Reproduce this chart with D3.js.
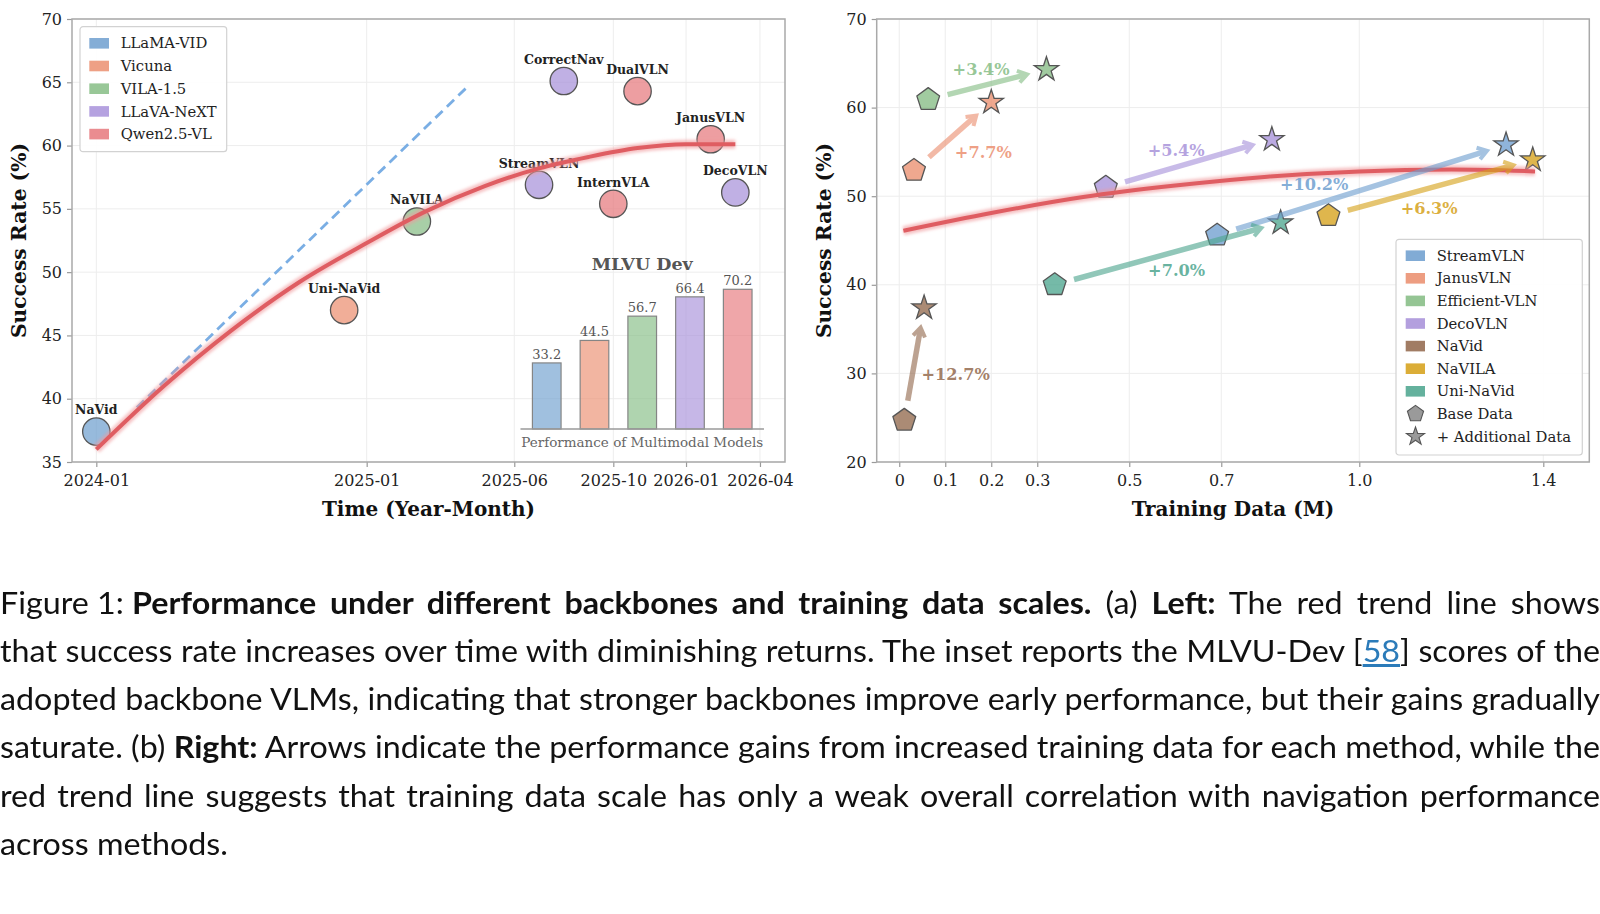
<!DOCTYPE html>
<html><head><meta charset="utf-8">
<script src="https://cdn.jsdelivr.net/npm/d3@7"></script>
<style>
body{margin:0;background:#fff;width:1600px;height:914px;overflow:hidden;position:relative;}
svg{position:absolute;left:0;top:0;}
#caption{position:absolute;left:0;top:577.5px;font-family:Lato,'Open Sans',sans-serif;font-weight:400;font-size:30px;line-height:48.33px;color:#111;transform-origin:0 0;}
#caption .ln{white-space:nowrap;}
#caption b{font-weight:700;}
#caption a{color:#2b7bb9;text-decoration:underline;}
#caption .fx{word-spacing:0 !important;}
</style></head>
<body>
<svg id="chart" width="1600" height="570"></svg>
<div id="caption"></div>
<script>
// ---------------- DATA ----------------
// Left panel: months counted from 2024-01
const xTickMonths = [0, 12, 17, 21, 24, 27];
const xTickLabelsL = ['2024-01', '2025-01', '2025-06', '2025-10', '2026-01', '2026-04'];
const yTicksL = [35, 40, 45, 50, 55, 60, 65, 70];
const leftMethods = ['NaVid', 'Uni-NaVid', 'NaVILA', 'StreamVLN', 'CorrectNav', 'InternVLA', 'DualVLN', 'JanusVLN', 'DecoVLN'];
const leftMonths = [0, 11, 13.7, 18, 19, 21, 22, 25, 26];
const leftSR = [37.4, 47.0, 54.0, 56.9, 65.1, 55.4, 64.3, 60.5, 56.3];
const leftBackbone = ['LLaMA-VID', 'Vicuna', 'VILA-1.5', 'LLaVA-NeXT', 'LLaVA-NeXT', 'Qwen2.5-VL', 'Qwen2.5-VL', 'Qwen2.5-VL', 'LLaVA-NeXT'];
const trendMonthsL = [0, 3, 6, 9, 12, 14, 16, 18, 20, 22, 24, 26];
const trendSRL = [36.0, 41.0, 45.4, 49.2, 52.3, 54.8, 56.8, 58.2, 59.1, 59.8, 60.1, 60.1];
const dashMonths = [1.8, 15.35];
const dashSR = [39.3, 64.5];
// Inset
const backbones = ['LLaMA-VID', 'Vicuna', 'VILA-1.5', 'LLaVA-NeXT', 'Qwen2.5-VL'];
const mlvuScores = [33.2, 44.5, 56.7, 66.4, 70.2];
const backboneColors = ['#6f9fcf', '#eb8f70', '#86bd85', '#a892da', '#e6787d'];

// Right panel
const xTicksR = [0, 0.1, 0.2, 0.3, 0.5, 0.7, 1.0, 1.4];
const xTickLabelsR = ['0', '0.1', '0.2', '0.3', '0.5', '0.7', '1.0', '1.4'];
const yTicksR = [20, 30, 40, 50, 60, 70];
const rightMethods = ['StreamVLN', 'JanusVLN', 'Efficient-VLN', 'DecoVLN', 'NaVid', 'NaVILA', 'Uni-NaVid'];
const rightColors = ['#6f9fcf', '#eb8f70', '#86bd85', '#a892da', '#946a4e', '#d6a21b', '#4ea68f'];
const baseData = [0.691, 0.032, 0.063, 0.449, 0.011, 0.933, 0.338];
const baseSR = [45.6, 52.9, 60.9, 51.0, 24.7, 47.8, 40.0];
const addData = [1.319, 0.200, 0.320, 0.810, 0.054, 1.377, 0.829];
const addSR = [55.8, 60.6, 64.3, 56.4, 37.4, 54.1, 47.0];
const gainLabels = ['+10.2%', '+7.7%', '+3.4%', '+5.4%', '+12.7%', '+6.3%', '+7.0%'];
const gainLabelData = [0.902, 0.183, 0.178, 0.602, 0.1226, 1.152, 0.603];
const gainLabelSR = [51.3, 55.0, 64.3, 55.2, 29.9, 48.6, 41.6];
const trendDataR = [0.009, 0.2, 0.4, 0.6, 0.8, 1.0, 1.2, 1.382];
const trendSRR = [46.1, 48.1, 49.9, 51.2, 52.2, 52.8, 53.0, 52.8];

// Caption ('f' = fixed spacing, 'b' = bold, 'a' = link)
const captionLines = [
  [['f', 'Figure 1: '], ['b', 'Performance under different backbones and training data scales.'], ['', ' (a) '], ['b', 'Left:'], ['', ' The red trend line shows']],
  [['', 'that success rate increases over time with diminishing returns. The inset reports the MLVU-Dev ['], ['a', '58'], ['', '] scores of the']],
  [['', 'adopted backbone VLMs, indicating that stronger backbones improve early performance, but their gains gradually']],
  [['', 'saturate. (b) '], ['b', 'Right:'], ['', ' Arrows indicate the performance gains from increased training data for each method, while the']],
  [['', 'red trend line suggests that training data scale has only a weak overall correlation with navigation performance']],
  [['', 'across methods.']]
];

// ---------------- DRAWING ----------------
const FONT = "'DejaVu Serif', serif";
const svg = d3.select('#chart');
const L = {x0: 72, y0: 19, x1: 785, y1: 462};
const R = {x0: 876.7, y0: 19, x1: 1589.3, y1: 462};
const Lw = L.x1 - L.x0, Lh = L.y1 - L.y0;
const colorL = d3.scaleOrdinal().domain(backbones).range(backboneColors);
const colorR = d3.scaleOrdinal().domain(rightMethods).range(rightColors);

const xL = d3.scaleLinear()
  .domain([-1.08, ...xTickMonths, 28.0])
  .range([0, .0341, .4133, .6203, .7592, .8612, .9649, 1].map(f => L.x0 + f * Lw));
const yL = d3.scaleLinear().domain([35, 70]).range([L.y1, L.y0]);
const xR = d3.scaleLinear().domain([-0.049, 1.5]).range([R.x0, R.x1]);
const yR = d3.scaleLinear().domain([20, 70]).range([R.y1, R.y0]);

const defs = svg.append('defs');
defs.append('filter').attr('id', 'blur').attr('x', '-10%').attr('y', '-10%').attr('width', '120%').attr('height', '120%')
  .append('feGaussianBlur').attr('stdDeviation', 1.8);

function frame(P, x, y, xt, xlab, yt) {
  const g = svg.append('g');
  g.selectAll('line.gx').data(xt).join('line').attr('class', 'gx')
    .attr('x1', d => x(d)).attr('x2', d => x(d)).attr('y1', P.y0).attr('y2', P.y1)
    .attr('stroke', '#ededed').attr('stroke-width', 1);
  g.selectAll('line.gy').data(yt).join('line').attr('class', 'gy')
    .attr('y1', d => y(d)).attr('y2', d => y(d)).attr('x1', P.x0).attr('x2', P.x1)
    .attr('stroke', '#ededed').attr('stroke-width', 1);
  const ax = svg.append('g').attr('transform', `translate(0,${P.y1})`)
    .call(d3.axisBottom(x).tickValues(xt).tickFormat((d, i) => xlab[i]).tickSize(5).tickPadding(8));
  const ay = svg.append('g').attr('transform', `translate(${P.x0},0)`)
    .call(d3.axisLeft(y).tickValues(yt).tickSize(5).tickPadding(5));
  [ax, ay].forEach(a => {
    a.select('.domain').remove();
    a.selectAll('line').attr('stroke', '#9a9a9a').attr('stroke-width', 1.2);
    a.selectAll('text').attr('font-family', FONT).attr('font-size', 16).attr('fill', '#222');
  });
  svg.append('rect').attr('x', P.x0).attr('y', P.y0).attr('width', P.x1 - P.x0).attr('height', P.y1 - P.y0)
    .attr('fill', 'none').attr('stroke', '#a9a9a9').attr('stroke-width', 1.5);
}

function axisTitles(P, xt) {
  svg.append('text').attr('x', (P.x0 + P.x1) / 2).attr('y', 516).attr('text-anchor', 'middle')
    .attr('font-family', FONT).attr('font-weight', 'bold').attr('font-size', 20).attr('fill', '#111').text(xt);
  svg.append('text').attr('transform', `translate(${P.x0 - 53},${(P.y0 + P.y1) / 2}) rotate(-90)`)
    .attr('text-anchor', 'middle').attr('dy', '0.35em')
    .attr('font-family', FONT).attr('font-weight', 'bold').attr('font-size', 20.3).attr('fill', '#111').text('Success Rate (%)');
}

function starPath(Ro, ri) {
  const p = [];
  for (let k = 0; k < 10; k++) {
    const a = -Math.PI / 2 + k * Math.PI / 5, r = k % 2 ? ri : Ro;
    p.push([r * Math.cos(a), r * Math.sin(a)]);
  }
  return 'M' + p.map(q => q[0].toFixed(2) + ',' + q[1].toFixed(2)).join('L') + 'Z';
}
function pentPath(Ro) {
  const p = [];
  for (let k = 0; k < 5; k++) {
    const a = -Math.PI / 2 + k * 2 * Math.PI / 5;
    p.push([Ro * Math.cos(a), Ro * Math.sin(a)]);
  }
  return 'M' + p.map(q => q[0].toFixed(2) + ',' + q[1].toFixed(2)).join('L') + 'Z';
}

function redTrend(pathD) {
  svg.append('path').attr('d', pathD).attr('fill', 'none').attr('stroke', '#f09a9c').attr('stroke-width', 9)
    .attr('stroke-opacity', 0.6).attr('filter', 'url(#blur)').attr('stroke-linecap', 'butt');
  svg.append('path').attr('d', pathD).attr('fill', 'none').attr('stroke', '#df5d62').attr('stroke-width', 4)
    .attr('stroke-linecap', 'butt');
}

// ===== LEFT PANEL =====
frame(L, xL, yL, xTickMonths, xTickLabelsL, yTicksL);
axisTitles(L, 'Time (Year-Month)');

// dashed blue line
svg.append('path').attr('d', d3.line()(dashMonths.map((m, i) => [xL(m), yL(dashSR[i])])))
  .attr('fill', 'none').attr('stroke', '#7aaee4').attr('stroke-width', 2.8).attr('stroke-dasharray', '10,6');

// points
const idxL = d3.range(leftMethods.length);
svg.append('g').selectAll('circle').data(idxL).join('circle')
  .attr('cx', i => xL(leftMonths[i])).attr('cy', i => yL(leftSR[i])).attr('r', 13.7)
  .attr('fill', i => colorL(leftBackbone[i])).attr('fill-opacity', 0.72)
  .attr('stroke', '#555').attr('stroke-width', 1.3);
svg.append('g').selectAll('text').data(idxL).join('text')
  .attr('x', i => xL(leftMonths[i])).attr('y', i => yL(leftSR[i]) - 21.5).attr('dy', '0.35em')
  .attr('text-anchor', 'middle').attr('font-family', FONT).attr('font-weight', 'bold')
  .attr('font-size', 12.5).attr('fill', '#222').text(i => leftMethods[i]);

// inset bars
const inX0 = L.x0 + 0.629 * Lw, inX1 = L.x0 + 0.9705 * Lw, inY0 = L.y0 + 0.9255 * Lh;
const xIn = d3.scaleBand().domain(backbones).range([inX0, inX1]).paddingInner(0.4).paddingOuter(0.25);
const yIn = d3.scaleLinear().domain([0, 80]).range([inY0, inY0 - 0.3594 * Lh]);
const gi = svg.append('g');
gi.selectAll('rect').data(backbones).join('rect')
  .attr('x', d => xIn(d)).attr('width', xIn.bandwidth())
  .attr('y', (d, i) => yIn(mlvuScores[i])).attr('height', (d, i) => yIn(0) - yIn(mlvuScores[i]))
  .attr('fill', d => colorL(d)).attr('fill-opacity', 0.66).attr('stroke', '#858585').attr('stroke-width', 1.2);
gi.selectAll('text.v').data(backbones).join('text').attr('class', 'v')
  .attr('x', d => xIn(d) + xIn.bandwidth() / 2).attr('y', (d, i) => yIn(mlvuScores[i]) - 4)
  .attr('text-anchor', 'middle').attr('font-family', FONT).attr('font-size', 13).attr('fill', '#555')
  .text((d, i) => mlvuScores[i].toFixed(1));
gi.append('line').attr('x1', inX0).attr('x2', inX1).attr('y1', inY0).attr('y2', inY0)
  .attr('stroke', '#9a9a9a').attr('stroke-width', 1.5);
gi.append('text').attr('x', (inX0 + inX1) / 2).attr('y', yIn(80)).attr('text-anchor', 'middle')
  .attr('font-family', FONT).attr('font-weight', 'bold').attr('font-size', 17.5).attr('fill', '#555').text('MLVU Dev');
gi.append('text').attr('x', (inX0 + inX1) / 2).attr('y', inY0 + 18).attr('text-anchor', 'middle')
  .attr('font-family', FONT).attr('font-size', 13.5).attr('fill', '#666').text('Performance of Multimodal Models');

// red trend
redTrend(d3.line().curve(d3.curveMonotoneX)(trendMonthsL.map((m, i) => [xL(m), yL(trendSRL[i])])));

// legend left
const lg = svg.append('g').attr('transform', `translate(${L.x0 + 8},${L.y0 + 7.7})`);
lg.append('rect').attr('width', 146.7).attr('height', 125).attr('rx', 3).attr('fill', '#fff').attr('fill-opacity', 0.9)
  .attr('stroke', '#d2d2d2').attr('stroke-width', 1.2);
backbones.forEach((b, i) => {
  const yy = 16.6 + i * 22.7;
  lg.append('rect').attr('x', 9.3).attr('y', yy - 5.3).attr('width', 19.7).attr('height', 10.6)
    .attr('fill', colorL(b)).attr('fill-opacity', 0.85);
  lg.append('text').attr('x', 40.7).attr('y', yy).attr('dy', '0.35em').attr('font-family', FONT)
    .attr('font-size', 14.8).attr('fill', '#222').text(b);
});

// ===== RIGHT PANEL =====
frame(R, xR, yR, xTicksR, xTickLabelsR, yTicksR);
axisTitles(R, 'Training Data (M)');

const idxR = d3.range(rightMethods.length);
const gm = svg.append('g');
gm.selectAll('path.base').data(idxR).join('path').attr('class', 'base')
  .attr('d', pentPath(12)).attr('transform', i => `translate(${xR(baseData[i])},${yR(baseSR[i])})`)
  .attr('fill', i => colorR(rightMethods[i])).attr('fill-opacity', 0.78)
  .attr('stroke', '#555').attr('stroke-width', 1.3).attr('stroke-linejoin', 'round');
gm.selectAll('path.add').data(idxR).join('path').attr('class', 'add')
  .attr('d', starPath(12.8, 4.9)).attr('transform', i => `translate(${xR(addData[i])},${yR(addSR[i])})`)
  .attr('fill', i => colorR(rightMethods[i])).attr('fill-opacity', 0.78)
  .attr('stroke', '#555').attr('stroke-width', 1.3).attr('stroke-linejoin', 'miter');

redTrend(d3.line().curve(d3.curveMonotoneX)(trendDataR.map((x, i) => [xR(x), yR(trendSRR[i])])));

// arrows
const ga = svg.append('g');
idxR.forEach(i => {
  const x0 = xR(baseData[i]), y0 = yR(baseSR[i]), x1 = xR(addData[i]), y1 = yR(addSR[i]);
  const dx = x1 - x0, dy = y1 - y0, len = Math.hypot(dx, dy), ux = dx / len, uy = dy / len;
  const nx = -uy, ny = ux, shrink = 20;
  const sx = x0 + ux * shrink, sy = y0 + uy * shrink, tx = x1 - ux * shrink, ty = y1 - uy * shrink;
  const g = ga.append('g').attr('opacity', 0.62);
  const col = colorR(rightMethods[i]);
  g.append('line').attr('x1', sx).attr('y1', sy).attr('x2', tx - ux * 2.5).attr('y2', ty - uy * 2.5)
    .attr('stroke', col).attr('stroke-width', 5.5);
  g.append('path').attr('d', `M${tx - ux * 9 + nx * 6},${ty - uy * 9 + ny * 6}L${tx},${ty}L${tx - ux * 9 - nx * 6},${ty - uy * 9 - ny * 6}`)
    .attr('fill', 'none').attr('stroke', col).attr('stroke-width', 4).attr('stroke-linejoin', 'miter');
});
svg.append('g').selectAll('text').data(idxR).join('text')
  .attr('x', i => xR(gainLabelData[i])).attr('y', i => yR(gainLabelSR[i])).attr('dy', '0.35em')
  .attr('text-anchor', 'middle').attr('font-family', FONT).attr('font-weight', 'bold').attr('font-size', 16.2)
  .attr('fill', i => colorR(rightMethods[i])).attr('fill-opacity', 0.85).text(i => gainLabels[i]);

// legend right
const lgR = svg.append('g').attr('transform', `translate(${R.x1 - 7 - 186.3},${R.y1 - 7 - 215.7})`);
lgR.append('rect').attr('width', 186.3).attr('height', 215.7).attr('rx', 3).attr('fill', '#fff').attr('fill-opacity', 0.9)
  .attr('stroke', '#d2d2d2').attr('stroke-width', 1.2);
rightMethods.forEach((m, i) => {
  const yy = 16.4 + i * 22.6;
  lgR.append('rect').attr('x', 9.7).attr('y', yy - 5.3).attr('width', 19.3).attr('height', 10.6)
    .attr('fill', colorR(m)).attr('fill-opacity', 0.88);
  lgR.append('text').attr('x', 40.7).attr('y', yy).attr('dy', '0.35em').attr('font-family', FONT)
    .attr('font-size', 14.8).attr('fill', '#222').text(m);
});
const legendShapes = [['Base Data', pentPath(8.5)], ['+ Additional Data', starPath(9.5, 3.7)]];
legendShapes.forEach(([t, d], k) => {
  const yy = 16.4 + (rightMethods.length + k) * 22.6;
  lgR.append('path').attr('d', d).attr('transform', `translate(19.5,${yy})`)
    .attr('fill', '#9a9a9a').attr('stroke', '#555').attr('stroke-width', 1.1);
  lgR.append('text').attr('x', 40.7).attr('y', yy).attr('dy', '0.35em').attr('font-family', FONT)
    .attr('font-size', 14.8).attr('fill', '#222').text(t);
});

// ===== CAPTION =====
const cap = d3.select('#caption');
const lines = cap.selectAll('div.ln').data(captionLines).join('div').attr('class', 'ln');
const inner = lines.append('span');
inner.each(function (segs) {
  const s = d3.select(this);
  segs.forEach(([t, txt]) => {
    const el = s.append(t === 'b' ? 'b' : t === 'a' ? 'a' : 'span').text(txt);
    if (t === 'f') el.attr('class', 'fx');
  });
});
const widths = inner.nodes().map(n => n.getBoundingClientRect().width);
const nJust = captionLines.length - 1;
const maxW = d3.max(widths.slice(0, nJust));
lines.each(function (segs, i) {
  if (i < nJust) {
    const txt = segs.filter(d => d[0] !== 'f').map(d => d[1]).join('');
    const n = (txt.match(/ /g) || []).length;
    d3.select(this).style('word-spacing', ((maxW - widths[i]) / n) + 'px');
  }
});
cap.style('width', maxW + 'px').style('transform', `scaleX(${1600 / maxW})`);
</script>
</body></html>
